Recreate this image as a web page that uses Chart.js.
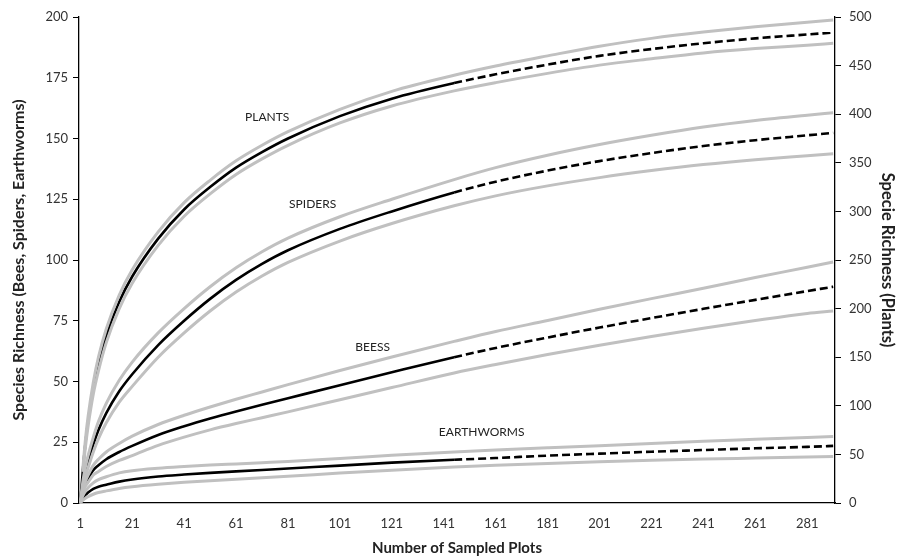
<!DOCTYPE html>
<html>
<head>
<meta charset="utf-8">
<script src="https://cdn.jsdelivr.net/npm/chart.js@4/dist/chart.umd.min.js"></script>
<style>
 html,body{margin:0;padding:0;background:#fff;}
 #wrap{width:903px;height:560px;}
</style>
</head>
<body>
<div id="wrap"><canvas id="chart" width="903" height="560"></canvas></div>
<script>
// ===== DATA =====
const samples=[1,2,3,4,6,8,11,16,21,31,41,51,61,71,81,101,121,145,161,181,201,221,241,261,281,291];
const xTicks=[1,21,41,61,81,101,121,141,161,181,201,221,241,261,281];
const splitAt=145; // observed -> extrapolated

// plants (right axis)
const plantsMean=[0,34,62,84,118,143,172,207,233,272,302,325,345,361,375,398,416,432,441,451,460,467,473,478,482,484];
const plantsHi=[null,36,66,89,124,150,179,214,240,279,309,332,352,368,382,405,423.5,440,449.5,460,470,478,484.5,490,494.5,497];
const plantsLo=[null,32,58,79,112,136,165,200,226,265,295,318,338,354,368,391,408.5,424,432.5,442,450.5,457,463,467.5,471,473];

// left axis
const spidersMean=[0,8,13,17,24,30,37,46,53,65,75,84,91.8,98.4,104,112.8,120,127.8,132.2,136.8,140.7,144,146.9,149.3,151.3,152.3];
const spidersHi=[0,9,15,19.5,27,33.5,41,50.5,58,70,80,89,96.8,103.4,109,117.8,125,133.1,138,143.1,147.5,151.3,154.7,157.4,159.6,160.6];
const spidersLo=[0,7,11,14.5,21,26.5,33,41.5,48,60,70,79,86.8,93.4,99,107.8,115,122.3,126.4,130.5,133.9,136.8,139.3,141.3,142.9,143.7];

const beesMean=[0,5,8,10,13.5,15.5,18,21,23.5,28,31.6,34.8,37.7,40.4,43.1,48.5,53.8,60,63.8,68.1,72.2,76.1,79.9,83.6,87.2,89];
const beesHi=[0,5.5,9,11.5,15.5,18,21,24.5,27.5,32.3,36.1,39.5,42.7,45.7,48.7,54.5,60.1,66.5,70.6,75.1,79.7,84.1,88.4,92.8,97,99.2];
const beesLo=[0,4.5,7,8.5,11.5,13,15,17.5,19.5,23.7,27.1,30.1,32.7,35.1,37.5,42.5,47.5,53.5,57,61.1,64.9,68.5,71.9,75.1,78,79];

const wormsMean=[0,2,3.3,4.3,5.8,6.7,7.5,8.8,9.7,10.9,11.7,12.4,13,13.6,14.2,15.4,16.6,17.8,18.5,19.5,20.3,21.1,21.8,22.5,23.1,23.5];
const wormsHi=[0,3,5,6.3,8.3,9.6,10.8,12.4,13.3,14.3,15,15.6,16.1,16.6,17.1,18.3,19.6,21,21.8,22.7,23.6,24.5,25.4,26.2,27,27.4];
const wormsLo=[0,1.2,2,2.6,3.6,4.3,5,6,6.7,7.7,8.5,9.2,9.8,10.4,11,12.3,13.5,14.8,15.5,16.3,17,17.6,18.1,18.5,18.9,19.1];

// curve names, placed at (plots, left-axis value)
const curveNames=["PLANTS","SPIDERS","BEESS","EARTHWORMS"];
const nameX=[73,90.5,113.6,155.6];
const nameY=[158.8,123,64.2,29.2];

// ===== HELPERS =====
const pts=arr=>samples.map((s,i)=>({x:s,y:arr[i]}));
const FONT="Lato";

function banda(arr,axis){
 return {data:pts(arr),yAxisID:axis,borderColor:"#c0c0c0",borderWidth:3,
  pointRadius:0,fill:false,cubicInterpolationMode:"monotone"};
}
function media(arr,axis){
 return {data:pts(arr),yAxisID:axis,borderColor:"#000",borderWidth:2.6,
  pointRadius:0,fill:false,cubicInterpolationMode:"monotone",
  segment:{borderDash:c=>c.p0.parsed.x>=splitAt?[8,4]:undefined}};
}

const nombres={
 id:"nombres",
 afterDatasetsDraw(chart){
  const c=chart.ctx,sx=chart.scales.x,sy=chart.scales.y;
  c.save();
  c.font="12px "+FONT;
  c.fillStyle="#222";
  c.textAlign="center";
  c.textBaseline="middle";
  curveNames.forEach((n,i)=>c.fillText(n,sx.getPixelForValue(nameX[i]),sy.getPixelForValue(nameY[i])));
  c.restore();
 }
};

// grey bands first so they draw on top of the black curves
new Chart(document.getElementById("chart"),{
 type:"line",
 data:{datasets:[
  banda(plantsHi,"y2"),banda(plantsLo,"y2"),
  banda(spidersHi,"y"),banda(spidersLo,"y"),
  banda(beesHi,"y"),banda(beesLo,"y"),
  banda(wormsHi,"y"),banda(wormsLo,"y"),
  media(plantsMean,"y2"),media(spidersMean,"y"),media(beesMean,"y"),media(wormsMean,"y")
 ]},
 options:{
  responsive:false,animation:false,
  layout:{padding:{top:17,bottom:0,left:0,right:0}},
  plugins:{legend:{display:false},tooltip:{enabled:false}},
  scales:{
   x:{type:"linear",min:0.5,max:291.7,
    afterBuildTicks:s=>{s.ticks=xTicks.map(v=>({value:v}));},
    afterFit:s=>{s.height=57;},
    grid:{display:false},
    border:{display:true,color:"#000",width:1.3},
    ticks:{color:"#333",font:{family:FONT,size:13},padding:5,maxRotation:0,autoSkip:false},
    title:{display:true,text:"Number of Sampled Plots",color:"#222",font:{family:FONT,size:15,weight:"bold"},padding:{top:0,bottom:3}}
   },
   y:{position:"left",min:0,max:200,
    afterFit:s=>{s.width=79;},
    grid:{drawOnChartArea:false,drawTicks:true,tickLength:6,color:"#000"},
    border:{display:true,color:"#000",width:1.3},
    ticks:{stepSize:25,color:"#333",font:{family:FONT,size:13},padding:5},
    title:{display:true,text:"Species Richness (Bees, Spiders, Earthworms)",color:"#222",font:{family:FONT,size:16,weight:"bold"},padding:{top:9,bottom:0}}
   },
   y2:{position:"right",min:0,max:500,
    afterFit:s=>{s.width=68;},
    grid:{drawOnChartArea:false,drawTicks:true,tickLength:6,color:"#000"},
    border:{display:true,color:"#000",width:1.3},
    ticks:{stepSize:50,color:"#333",font:{family:FONT,size:13},padding:8},
    title:{display:true,text:"Specie Richness (Plants)",color:"#222",font:{family:FONT,size:16.5,weight:"bold"},padding:{top:6,bottom:0}}
   }
  }
 },
 plugins:[nombres]
});
</script>
</body>
</html>
